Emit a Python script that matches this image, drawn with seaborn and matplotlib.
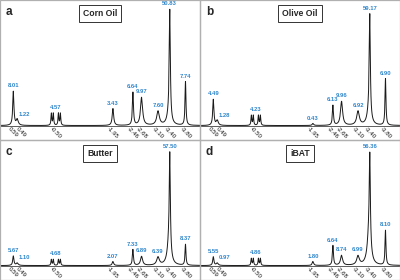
import numpy as np
import pandas as pd
import matplotlib
matplotlib.use("Agg")
import matplotlib.pyplot as plt
import matplotlib.transforms as mtransforms
from matplotlib.patches import Rectangle
import seaborn as sns

sns.set_style("white")
plt.rcParams['font.family'] = ['Liberation Sans', 'DejaVu Sans']

# chemical shift positions of the fitted peaks (ppm, relative)
peak_ppm = [0.59, 0.49, -0.50, -1.95, -2.46, -2.68, -3.10, -3.40, -3.80]
tick_labels = ["0.59", "0.49", "-0.50", "-1.95", "-2.46", "-2.68", "-3.10", "-3.40", "-3.80"]
# rough line half-widths for each peak (ppm)
peak_width = [0.018, 0.03, 0.012, 0.022, 0.016, 0.032, 0.04, 0.016, 0.014]

panel_names = ["Corn Oil", "Olive Oil", "Butter", "iBAT"]
panel_letters = ["a", "b", "c", "d"]

# peak area labels (%)
areas_corn = [8.01, 1.22, 4.57, 3.43, 6.64, 9.97, 7.60, 50.83, 7.74]
areas_olive = [4.49, 1.28, 4.23, 0.43, 6.13, 9.96, 6.92, 59.17, 6.90]
areas_butter = [5.67, 1.10, 4.68, 2.07, 7.33, 6.89, 6.39, 57.50, 8.37]
areas_ibat = [5.55, 0.97, 4.86, 1.80, 6.64, 8.74, 6.99, 56.36, 8.10]

# peak heights (arbitrary units)
heights_corn = [34, 6, 12, 17, 33, 28, 14, 106, 44]
heights_olive = [26, 5, 10, 2, 20, 24, 14, 99, 47]
heights_butter = [9.5, 2.5, 6, 4, 16, 9, 8, 95, 21]
heights_ibat = [8.7, 2.5, 7, 4, 20, 10, 9, 86, 35]
# broad shoulder under the main -3.40 peak
shoulder = [12, 15, 22, 32]

areas = [areas_corn, areas_olive, areas_butter, areas_ibat]
heights = [heights_corn, heights_olive, heights_butter, heights_ibat]

x = np.linspace(0.93, -4.17, 3000)


def lor(x0, h, w):
    return h / (1 + ((x - x0) / w) ** 2)


def spectrum(hs, sh):
    y = np.zeros_like(x)
    for p, h, w in zip(peak_ppm, hs, peak_width):
        if p == -0.50:
            # multiplet at -0.50
            for off in [0.12, 0.07, -0.06, -0.11]:
                y += lor(p + off, h, w)
        else:
            y += lor(p, h, w)
    y += lor(-3.38, sh, 0.05)
    return y


fig = plt.figure(figsize=(4, 2.8), dpi=100)
blue = "#2f86cc"
boxes = [[0, 0.5, 0.5, 0.5], [0.5, 0.5, 0.5, 0.5], [0, 0, 0.5, 0.5], [0.5, 0, 0.5, 0.5]]

for i in range(4):
    ax = fig.add_axes(boxes[i])
    df = pd.DataFrame({"ppm": x, "signal": spectrum(heights[i], shoulder[i])})
    sns.lineplot(data=df, x="ppm", y="signal", ax=ax, color="#1a1a1a", lw=0.7)
    ax.set_xlim(0.93, -4.17)
    ax.set_ylim(-14.5, 126)
    for s in ["top", "left", "right"]:
        ax.spines[s].set_visible(False)
    ax.spines["bottom"].set_position(("data", 0))
    ax.spines["bottom"].set_color("#444444")
    ax.spines["bottom"].set_linewidth(0.6)
    ax.set_xticks(peak_ppm)
    ax.set_xticklabels(tick_labels, rotation=-45, fontsize=4.4, color="#111111")
    ax.tick_params(axis="x", length=0, pad=0.8)
    ax.set_yticks([])
    ax.set_xlabel("")
    ax.set_ylabel("")
    # nudge the crowded 0.49 label right
    lab = ax.get_xticklabels()[1]
    lab.set_transform(lab.get_transform() + mtransforms.ScaledTranslation(4 / 100, 0, fig.dpi_scale_trans))

    y = df["signal"].values
    for j, p in enumerate(peak_ppm):
        near = np.abs(x - p) < 0.06
        top = y[near].max() if j != 1 else heights[i][1]
        dx = 5 if j == 1 else 0
        ax.annotate(f"{areas[i][j]:.2f}", (p, top), xytext=(dx, 2), textcoords="offset points",
                    ha="center", va="bottom", fontsize=4.2, fontweight="bold", color=blue)

    ax.text(0.03, 0.915, panel_letters[i], transform=ax.transAxes, fontsize=8.5,
            fontweight="bold", ha="left", va="center")
    ax.text(0.5, 0.905, panel_names[i], transform=ax.transAxes, fontsize=6.2,
            fontweight="bold", ha="center", va="center",
            bbox=dict(boxstyle="square,pad=0.45", fc="white", ec="#333333", lw=0.7))

# panel frames
for b in boxes:
    fig.add_artist(Rectangle((b[0], b[1]), b[2], b[3], transform=fig.transFigure,
                             fill=False, ec="#b0b0b0", lw=0.9))

plt.savefig("out.png", dpi=100)
